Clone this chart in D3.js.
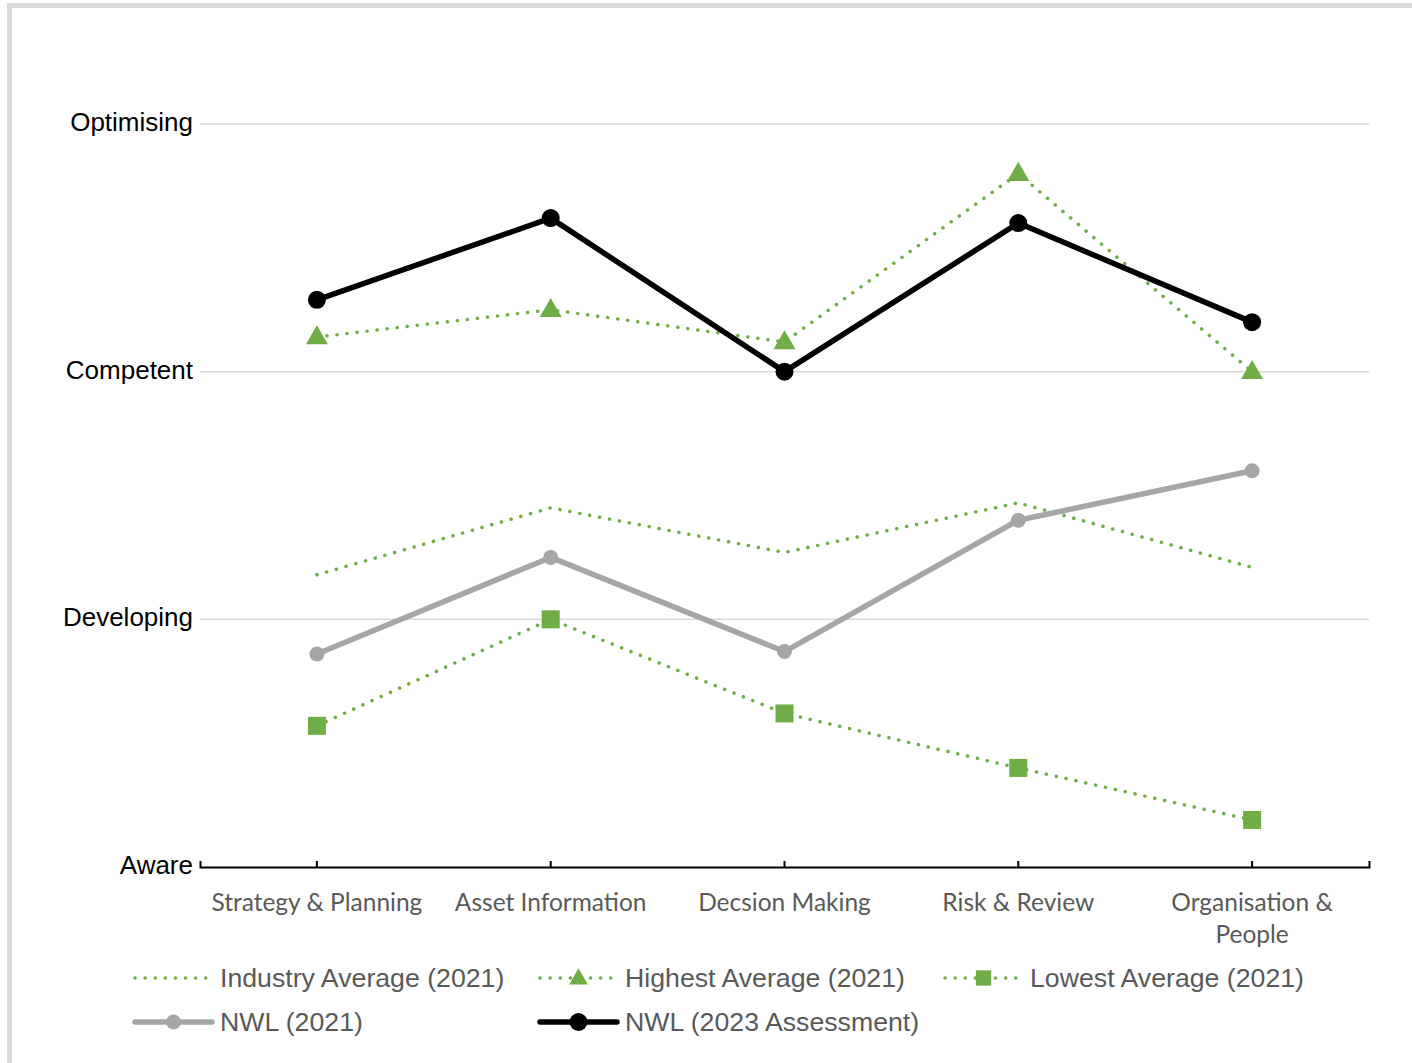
<!DOCTYPE html>
<html><head><meta charset="utf-8">
<script src="https://cdn.jsdelivr.net/npm/d3@7"></script>
<style>body{margin:0;background:#fff}svg{display:block}</style>
</head><body>
<script>
const categories = ["Strategy & Planning", "Asset Information", "Decsion Making", "Risk & Review", "Organisation & People"];
const levelLabels = ["Aware", "Developing", "Competent", "Optimising"];
const industryAvg = [1.18, 1.45, 1.27, 1.47, 1.21];
const highestAvg = [2.14, 2.25, 2.12, 2.80, 2.00];
const lowestAvg = [0.57, 1.00, 0.62, 0.40, 0.19];
const nwl2021 = [0.86, 1.25, 0.87, 1.40, 1.60];
const nwl2023 = [2.29, 2.62, 2.00, 2.60, 2.20];

const W = 1412, H = 1063;
const svg = d3.select("body").append("svg").attr("width", W).attr("height", H);
svg.append("rect").attr("x", 9.5).attr("y", 5.5).attr("width", 1420).attr("height", 1070)
  .attr("fill", "#fff").attr("stroke", "#d9d9d9").attr("stroke-width", 5);

const x = d3.scaleBand().domain(categories).range([200, 1369]).padding(0);
const y = d3.scaleLinear().domain([0, 3]).range([867, 124]);
const green = "#70ad47";

// gridlines
svg.append("g").selectAll("line").data([1, 2, 3]).join("line")
  .attr("x1", 200).attr("x2", 1369).attr("y1", d => y(d)).attr("y2", d => y(d))
  .attr("stroke", "#d9d9d9").attr("stroke-width", 1.5);

// y labels
svg.append("g").selectAll("text").data(levelLabels).join("text")
  .attr("x", 193).attr("y", (d, i) => y(i)).attr("dy", "0.27em").attr("text-anchor", "end")
  .attr("font-family", "Liberation Sans, Arial, sans-serif").attr("font-size", 26).attr("fill", "#000")
  .text(d => d);

// x axis
const xAxis = svg.append("g").attr("transform", "translate(0,867)")
  .call(d3.axisBottom(x).tickSize(-6).tickSizeOuter(-6).tickFormat(""));
xAxis.select(".domain").attr("stroke", "#000").attr("stroke-width", 2);
xAxis.selectAll(".tick line").attr("stroke", "#000").attr("stroke-width", 2);

// x labels (wrapped)
const xl = svg.append("g").selectAll("text").data(categories).join("text")
  .attr("x", d => x(d) + x.bandwidth() / 2).attr("y", 911).attr("text-anchor", "middle")
  .attr("font-family", "Lato, 'Open Sans', sans-serif").attr("font-size", 24.5).attr("fill", "#595959");
xl.each(function(d) {
  const t = d3.select(this);
  const lines = d === "Organisation & People" ? ["Organisation &", "People"] : [d];
  lines.forEach((l, i) => t.append("tspan").attr("x", x(d) + x.bandwidth() / 2).attr("dy", i === 0 ? 0 : 32).text(l));
});

const cx = d => x(d) + x.bandwidth() / 2;
const line = d3.line().x((d, i) => cx(categories[i])).y(d => y(d));

const series = [
  {name: "Industry Average (2021)", data: industryAvg, color: green, width: 3.5, dash: "0.1 10", marker: null},
  {name: "Highest Average (2021)", data: highestAvg, color: green, width: 3.5, dash: "0.1 10", marker: "triangle"},
  {name: "Lowest Average (2021)", data: lowestAvg, color: green, width: 3.5, dash: "0.1 10", marker: "square"},
  {name: "NWL (2021)", data: nwl2021, color: "#a6a6a6", width: 5.5, dash: null, marker: "circleG"},
  {name: "NWL (2023 Assessment)", data: nwl2023, color: "#000", width: 5.5, dash: null, marker: "circleB"}
];

function drawMarker(g, type, color, px, py, scale) {
  const s = scale || 1;
  if (type === "triangle") {
    g.append("path").attr("d", d3.symbol().type(d3.symbolTriangle).size(210 * s * s)())
      .attr("transform", `translate(${px},${py + 1})`).attr("fill", color);
  } else if (type === "square") {
    g.append("rect").attr("x", px - 9 * s).attr("y", py - 9 * s).attr("width", 18 * s).attr("height", 18 * s).attr("fill", color);
  } else if (type === "circleG") {
    g.append("circle").attr("cx", px).attr("cy", py).attr("r", 7.5 * s).attr("fill", color);
  } else if (type === "circleB") {
    g.append("circle").attr("cx", px).attr("cy", py).attr("r", 9 * s).attr("fill", color);
  }
}

const plot = svg.append("g");
series.forEach(s => {
  plot.append("path").datum(s.data).attr("d", line).attr("fill", "none")
    .attr("stroke", s.color).attr("stroke-width", s.width)
    .attr("stroke-linecap", "round").attr("stroke-linejoin", "round")
    .attr("stroke-dasharray", s.dash);
  if (s.marker) s.data.forEach((v, i) => drawMarker(plot, s.marker, s.color, cx(categories[i]), y(v)));
});

// legend
const legendPos = [[135, 978], [540, 978], [945, 978], [135, 1022], [540, 1022]];
const lg = svg.append("g");
series.forEach((s, i) => {
  const [lx, ly] = legendPos[i];
  lg.append("line").attr("x1", lx).attr("x2", lx + 77).attr("y1", ly).attr("y2", ly)
    .attr("stroke", s.color).attr("stroke-width", s.width)
    .attr("stroke-linecap", "round").attr("stroke-dasharray", s.dash);
  if (s.marker) drawMarker(lg, s.marker, s.color, lx + 38.5, ly, s.marker === "circleG" || s.marker === "circleB" ? 1 : 0.85);
  lg.append("text").attr("x", lx + 85).attr("y", ly).attr("dy", "0.35em")
    .attr("font-family", "Liberation Sans, Arial, sans-serif").attr("font-size", 26.7).attr("fill", "#595959")
    .text(s.name);
});
</script>
</body></html>
